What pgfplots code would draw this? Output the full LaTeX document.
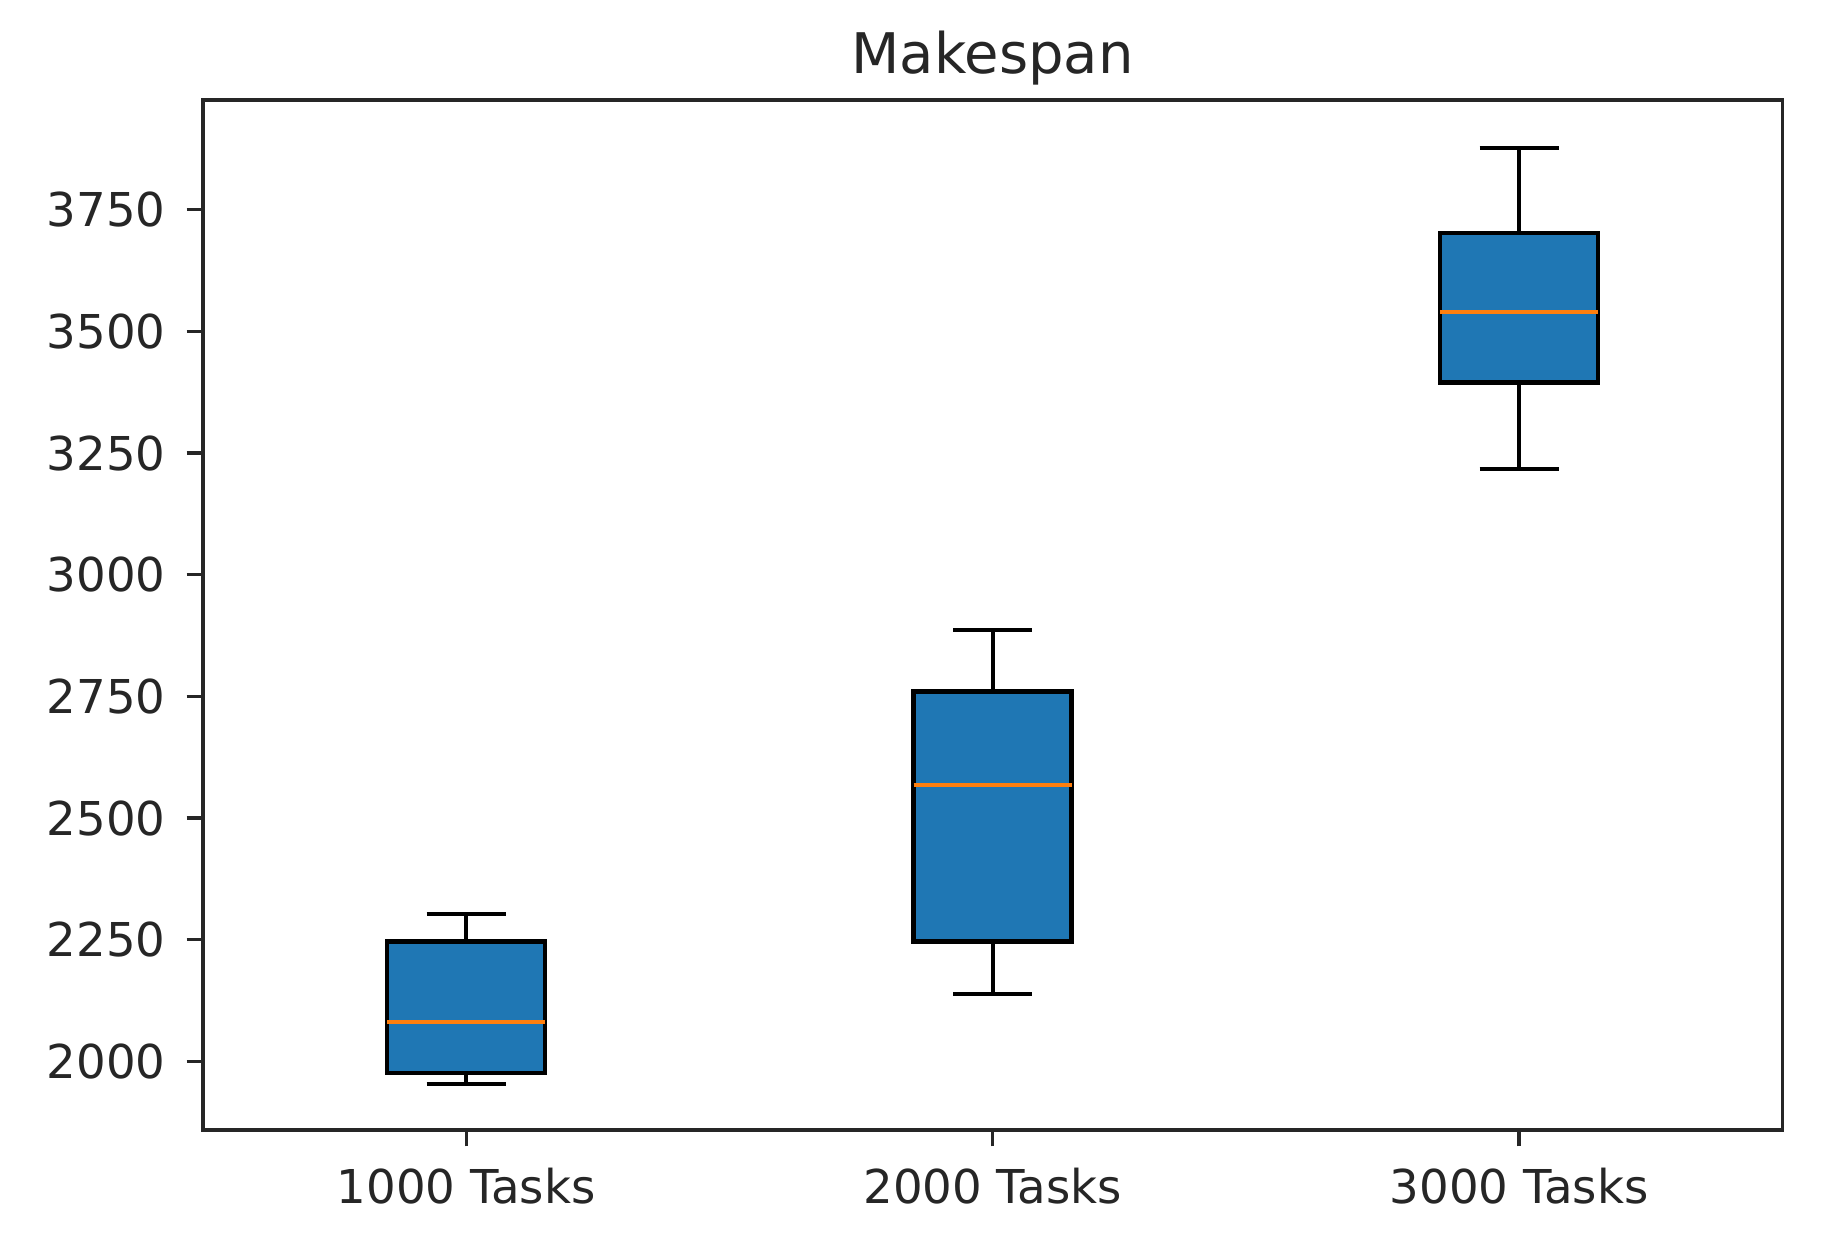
\documentclass[border=0pt]{standalone}
\usepackage{fontspec}
\setmainfont{DejaVu Sans}
\usepackage{pgfplots}
\pgfplotsset{compat=1.18}
\definecolor{mplblue}{HTML}{1F77B4}
\definecolor{mplorange}{HTML}{FF7F0E}
\definecolor{axgray}{HTML}{262626}
\begin{document}
\begin{tikzpicture}
\begin{axis}[
  name=ax,
  width=473.9pt, height=309pt, scale only axis,
  xmin=0.5, xmax=3.5, ymin=1859, ymax=3975,
  xtick={1,2,3}, xticklabels={1000 Tasks,2000 Tasks,3000 Tasks},
  ytick={2000,2250,2500,2750,3000,3250,3500,3750},
  tick align=outside, xtick pos=bottom, ytick pos=left,
  major tick length=4.9pt,
  every tick/.style={axgray, line width=1pt},
  axis line style={axgray, line width=1.1pt},
  ticklabel style={font=\fontsize{14}{16}\selectfont, text=axgray},
  xticklabel style={yshift=-2.8pt},
  yticklabel style={xshift=-2.8pt},
  /pgf/number format/assume math mode=true,
  /pgf/number format/1000 sep={},
  title={Makespan},
  title style={font=\fontsize{16.8}{19}\selectfont, text=axgray, at={(0.5,1)}, anchor=base, yshift=2pt},
  whisk/.style={black, line width=1.2pt, line cap=butt},
  boxst/.style={draw=black, fill=mplblue, line width=1.35pt},
  med/.style={mplorange, line width=1.2pt},
]
% 1000 Tasks: lw=1954, q1=1976, med=2081, q3=2247, uw=2304
\addplot[whisk] coordinates {(1,1976) (1,1954)};
\addplot[whisk] coordinates {(1,2247) (1,2304)};
\addplot[whisk] coordinates {(0.925,1954) (1.075,1954)};
\addplot[whisk] coordinates {(0.925,2304) (1.075,2304)};
\addplot[boxst] coordinates {(0.85,1976) (1.15,1976) (1.15,2247) (0.85,2247)} -- cycle;
\addplot[med] coordinates {(0.85,2081) (1.15,2081)};
% 2000 Tasks: lw=2139, q1=2247, med=2568, q3=2760, uw=2887
\addplot[whisk] coordinates {(2,2247) (2,2139)};
\addplot[whisk] coordinates {(2,2760) (2,2887)};
\addplot[whisk] coordinates {(1.925,2139) (2.075,2139)};
\addplot[whisk] coordinates {(1.925,2887) (2.075,2887)};
\addplot[boxst] coordinates {(1.85,2247) (2.15,2247) (2.15,2760) (1.85,2760)} -- cycle;
\addplot[med] coordinates {(1.85,2568) (2.15,2568)};
% 3000 Tasks: lw=3218, q1=3395, med=3539, q3=3702, uw=3877
\addplot[whisk] coordinates {(3,3395) (3,3218)};
\addplot[whisk] coordinates {(3,3702) (3,3877)};
\addplot[whisk] coordinates {(2.925,3218) (3.075,3218)};
\addplot[whisk] coordinates {(2.925,3877) (3.075,3877)};
\addplot[boxst] coordinates {(2.85,3395) (3.15,3395) (3.15,3702) (2.85,3702)} -- cycle;
\addplot[med] coordinates {(2.85,3539) (3.15,3539)};
\end{axis}
\pgfresetboundingbox
\path[use as bounding box] ([shift={(-60.9pt,-35.35pt)}]ax.south west) rectangle ([shift={(14pt,30.1pt)}]ax.north east);
\end{tikzpicture}
\end{document}
